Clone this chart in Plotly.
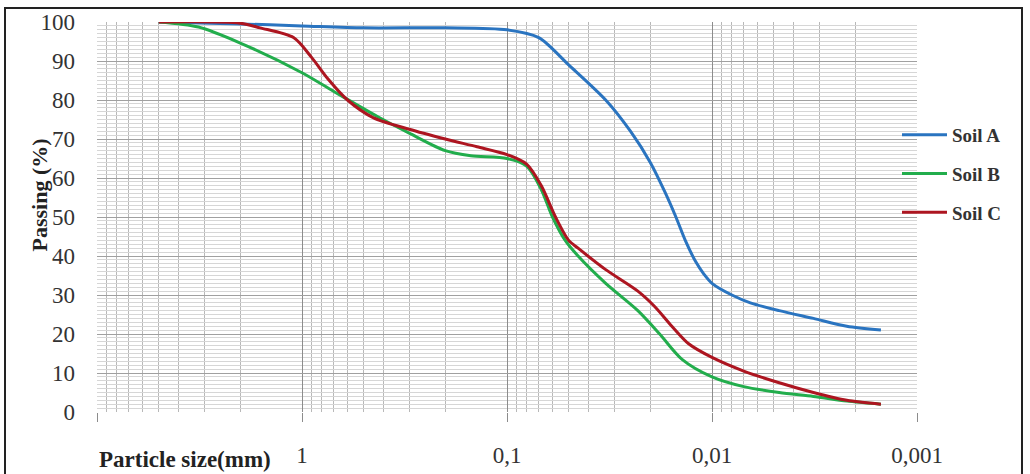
import plotly.graph_objects as go

# ---- data (particle size in mm, passing in %) ----
soil_a_size = [5, 2, 1, 0.5, 0.2, 0.1, 0.07, 0.05, 0.033, 0.025, 0.02, 0.017, 0.015, 0.0135, 0.012, 0.011, 0.01, 0.008, 0.0065, 0.0047, 0.0032, 0.0022, 0.0015]
soil_a_pass = [100, 99.5, 99, 98.5, 98.5, 98, 96, 89, 80, 72, 64, 56.5, 50, 44, 38.5, 35.5, 33, 30, 28, 26, 24, 22, 21]

soil_b_size = [5, 3.2, 2, 1, 0.69, 0.55, 0.42, 0.3, 0.2, 0.15, 0.1, 0.08, 0.068, 0.06, 0.052, 0.045, 0.033, 0.023, 0.018, 0.014, 0.01, 0.007, 0.0047, 0.0032, 0.0022, 0.0015]
soil_b_pass = [100, 98.7, 94.6, 87, 82, 79, 75.5, 71.5, 67, 65.7, 65, 63, 57, 50, 44, 40, 33, 26, 20, 13.5, 9, 6.5, 5, 4, 2.8, 2]

soil_c_size = [5, 2, 1.6, 1.1, 0.9, 0.75, 0.6, 0.45, 0.3, 0.2, 0.14, 0.1, 0.08, 0.068, 0.058, 0.05, 0.045, 0.033, 0.023, 0.019, 0.0157, 0.013, 0.01, 0.007, 0.0047, 0.0032, 0.0022, 0.0015]
soil_c_pass = [100, 99.7, 98.5, 96, 91, 85.5, 80, 75.5, 72.5, 70, 68, 66, 63.5, 58, 50, 44, 42, 36.5, 31, 27, 22, 17.5, 14, 10.5, 7.5, 5, 3, 2]

series_names = ["Soil A", "Soil B", "Soil C"]
series_colors = ["#2a74c0", "#22ad4c", "#ad1520"]

x_major_vals = [10, 1, 0.1, 0.01, 0.001]
x_major_text = ["", "1", "0,1", "0,01", "0,001"]
x_minor_vals = [m * 10.0 ** k for k in range(-3, 1) for m in range(2, 10)]

fig = go.Figure()
for name, xs, ys, col in zip(series_names,
                             [soil_a_size, soil_b_size, soil_c_size],
                             [soil_a_pass, soil_b_pass, soil_c_pass],
                             series_colors):
    fig.add_trace(go.Scatter(x=xs, y=ys, name=name, mode="lines",
                             line=dict(color=col, width=3, shape="spline", smoothing=0.8),
                             legendgroup=name))

L, R, T, B = 97, 113, 22, 62
PW, PH = 1030 - L - R, 474 - T - B

fig.update_layout(
    width=1030, height=474,
    margin=dict(l=L, r=R, t=T, b=B, autoexpand=False),
    paper_bgcolor="white",
    plot_bgcolor="white",
    font=dict(family="Liberation Serif", color="#333333"),
    showlegend=True,
    legend=dict(x=(897 - L) / PW, xanchor="left", y=(412 - 174) / PH, yanchor="middle",
                font=dict(size=19, family="Liberation Serif", color="#333333", weight="bold"),
                bgcolor="rgba(0,0,0,0)", tracegroupgap=11, itemwidth=45),
    xaxis=dict(type="log", range=[1, -3], tickmode="array", automargin=False,
               tickvals=x_major_vals, ticktext=x_major_text,
               showgrid=True, gridcolor="#8c8c8c", gridwidth=1,
               ticks="outside", ticklen=9, tickcolor="#8c8c8c",
               tickfont=dict(size=23, family="Liberation Serif", color="#333333"),
               ticklabelstandoff=13,
               minor=dict(tickmode="array", tickvals=x_minor_vals, showgrid=True,
                          gridcolor="#b8b8b8", gridwidth=1, ticks=""),
               zeroline=False, showline=False),
    yaxis=dict(range=[0, 100], dtick=10, tick0=0, automargin=False,
               showgrid=True, gridcolor="#a0a0a0", gridwidth=1,
               ticks="", tickfont=dict(size=23, family="Liberation Serif", color="#333333"),
               ticklabelstandoff=21,
               minor=dict(dtick=1, showgrid=True, gridcolor="#d6d6d6", gridwidth=1),
               zeroline=False, showline=False),
)

fig.add_annotation(text="<b>Passing (%)</b>", xref="paper", yref="paper",
                   x=(24 - L) / PW, y=(412 - 195) / PH, textangle=-90,
                   showarrow=False, font=dict(size=22, family="Liberation Serif", color="#222222"))
fig.add_annotation(text="<b>Particle size(mm)</b>", xref="paper", yref="paper",
                   x=(97 - L) / PW, xanchor="left", y=(412 - 459) / PH, yanchor="middle",
                   showarrow=False, font=dict(size=23, family="Liberation Serif", color="#222222"))

fig.add_shape(type="rect", xref="paper", yref="paper",
              x0=(5 - L) / PW, x1=(1022 - L) / PW, y0=(412 - 520) / PH, y1=(412 - 8) / PH,
              line=dict(color="#222222", width=2), fillcolor="rgba(0,0,0,0)", layer="above")

fig.write_html("out.html", config={"displayModeBar": False},
               post_script="document.body.style.margin='0px';")
